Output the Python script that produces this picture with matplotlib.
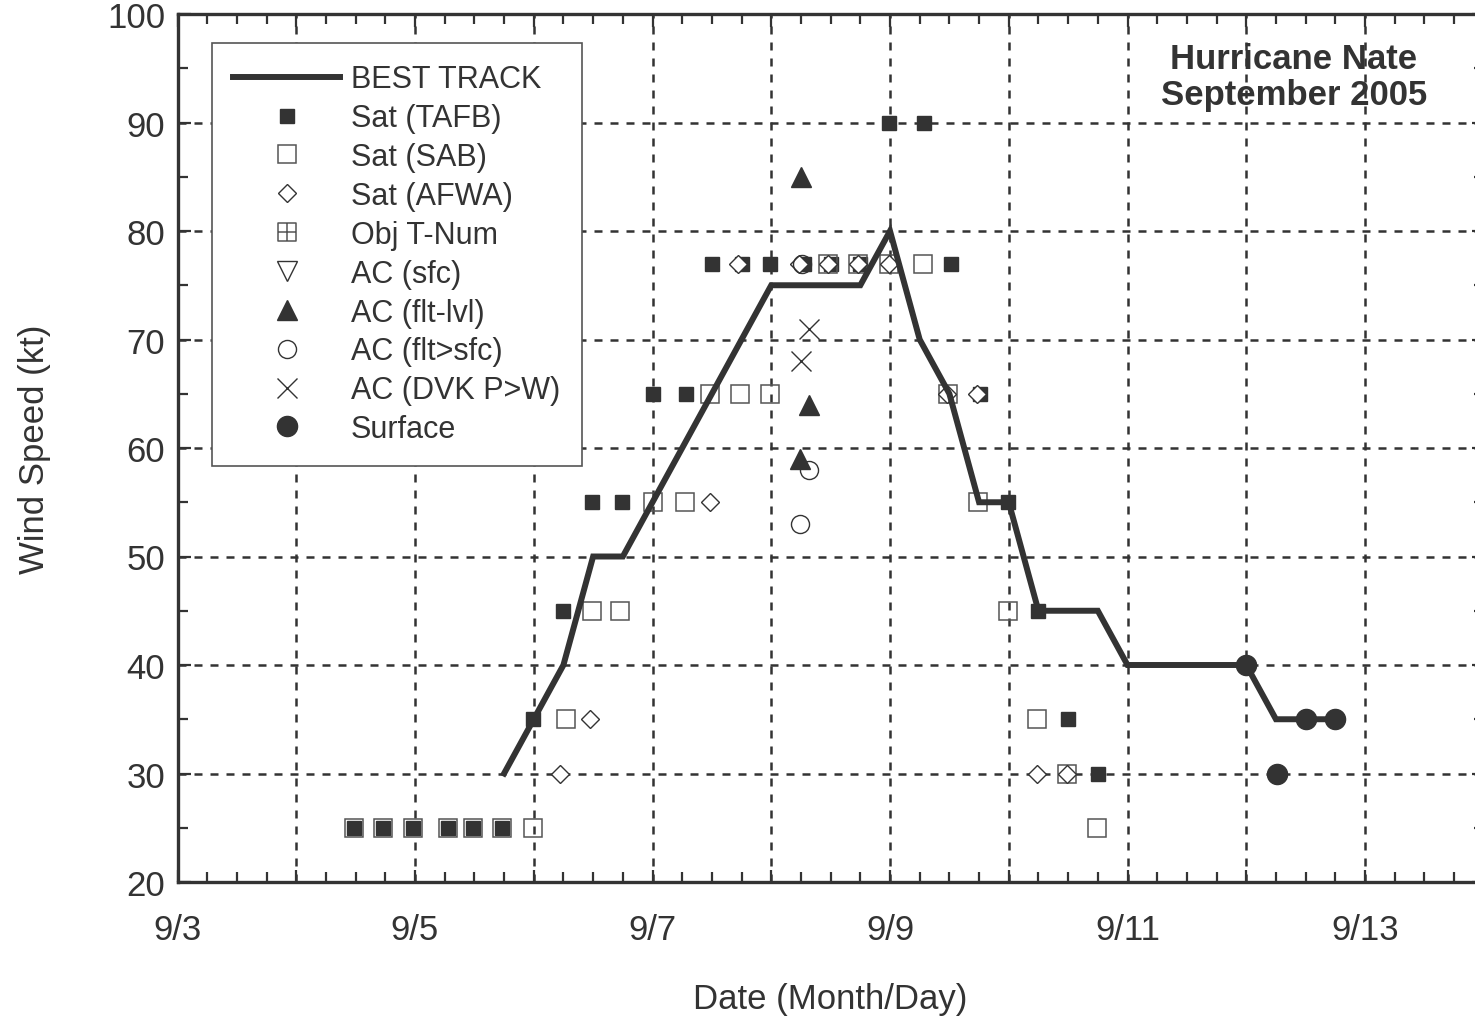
import matplotlib
matplotlib.use('Agg')
import matplotlib.pyplot as plt
from matplotlib.path import Path
from matplotlib.lines import Line2D

plt.rcParams['font.family'] = ['Liberation Sans', 'DejaVu Sans']

INK = '#333333'

# Best track, 6-hourly from 9/5 18Z to 9/12 18Z (day of September)
bt_day = [5.75 + 0.25 * i for i in range(29)]
bt_kt = [30,
         35, 40, 50, 50,
         55, 60, 65, 70,
         75, 75, 75, 75,
         80, 70, 65, 55,
         55, 45, 45, 45,
         40, 40, 40, 40,
         40, 35, 35, 35]

# Satellite fixes
tafb_day = [4.49, 4.73, 4.98, 5.28, 5.49, 5.73, 5.99, 6.25, 6.49, 6.74, 7.00, 7.28,
            7.50, 7.75, 7.99, 8.28, 8.50, 8.75, 8.99, 9.29, 9.51, 9.76, 9.99, 10.25,
            10.50, 10.75]
tafb_kt = [25, 25, 25, 25, 25, 25, 35, 45, 55, 55, 65, 65,
           77, 77, 77, 77, 77, 77, 90, 90, 77, 65, 55, 45,
           35, 30]

sab_day = [4.49, 4.73, 4.98, 5.28, 5.49, 5.73, 5.99, 6.27, 6.49, 6.73, 7.00, 7.27,
           7.48, 7.74, 7.99, 8.48, 8.73, 8.99, 9.28, 9.49, 9.74, 9.99, 10.24, 10.49,
           10.74]
sab_kt = [25, 25, 25, 25, 25, 25, 25, 35, 45, 45, 55, 55,
          65, 65, 65, 77, 77, 77, 77, 65, 55, 45, 35, 30,
          25]

afwa_day = [6.22, 6.47, 7.48, 7.72, 8.23, 8.48, 8.73, 8.99, 9.48, 9.73, 10.24, 10.49]
afwa_kt = [30, 35, 55, 77, 77, 77, 77, 77, 65, 65, 30, 30]

# Aircraft
flt_day = [8.25, 8.32, 8.24]
flt_kt = [85, 64, 59]

fltsfc_day = [8.32, 8.24, 8.26]
fltsfc_kt = [58, 53, 77]

dvk_day = [8.32, 8.25]
dvk_kt = [71, 68]

sfc_day = [12.00, 12.26, 12.50, 12.75]
sfc_kt = [40, 30, 35, 35]

day_ticks = list(range(3, 15))
day_labels = ['9/%d' % d if d % 2 == 1 else '' for d in day_ticks]

# square with a cross inside, for Obj T-Num
M, L, C = Path.MOVETO, Path.LINETO, Path.CLOSEPOLY
tnum_marker = Path([(-1, -1), (1, -1), (1, 1), (-1, 1), (-1, -1), (-1, 0), (1, 0), (0, -1), (0, 1)],
                   [M, L, L, L, C, M, L, M, L])

fig = plt.figure(figsize=(14.75, 10.2), dpi=100)
ax = fig.add_axes([177.5 / 1475, 1 - 883 / 1020, (1483.75 - 177.5) / 1475, 868 / 1020])

ax.plot(tafb_day, tafb_kt, ls='none', marker='s', ms=10.5, mfc=INK, mec=INK, mew=1, zorder=3)
ax.plot(sab_day, sab_kt, ls='none', marker='s', ms=13.5, mfc='none', mec='#555555', mew=1.1, zorder=3)
ax.plot(afwa_day, afwa_kt, ls='none', marker='D', ms=9, mfc='white', mec=INK, mew=1, zorder=3)
ax.plot(flt_day, flt_kt, ls='none', marker='^', ms=14, mfc=INK, mec=INK, zorder=3)
ax.plot(fltsfc_day, fltsfc_kt, ls='none', marker='o', ms=13, mfc='none', mec=INK, mew=1, zorder=3)
ax.plot(dvk_day, dvk_kt, ls='none', marker='x', ms=14, mec=INK, mew=1, zorder=3)
ax.plot(bt_day, bt_kt, color=INK, lw=4.3, zorder=4, solid_joinstyle='miter')
ax.plot(sfc_day, sfc_kt, ls='none', marker='o', ms=14.5, mfc=INK, mec=INK, zorder=5)

ax.set_xlim(3, 14)
ax.set_ylim(20, 100)
ax.set_xticks(day_ticks)
ax.set_xticklabels(day_labels)
ax.set_xticks([d + q for d in range(3, 14) for q in (0.25, 0.5, 0.75)], minor=True)
ax.set_yticks(range(20, 101, 10))
ax.set_yticks(range(25, 100, 10), minor=True)

ax.grid(True, which='major', color=INK, linestyle=(0, (3.2, 3.2)), linewidth=1.8)
ax.set_axisbelow(True)
ax.tick_params(which='both', direction='in', top=True, right=True, color=INK,
               width=1.6, labelsize=25, labelcolor=INK)
ax.tick_params(which='major', length=9)
ax.tick_params(which='minor', length=7)
ax.tick_params(axis='x', pad=22)
ax.tick_params(axis='y', pad=9)
for sp in ax.spines.values():
    sp.set_color(INK)
    sp.set_linewidth(2.4)

ax.set_xlabel('Date (Month/Day)', fontsize=25, color=INK, labelpad=26)
ax.set_ylabel('Wind Speed (kt)', fontsize=25, color=INK, labelpad=40)

ax.text(12.4, 94.2, 'Hurricane Nate\nSeptember 2005', ha='center', va='center',
        fontsize=25, fontweight='bold', color=INK, linespacing=1.12)

handles = [
    Line2D([], [], color=INK, lw=4.3),
    Line2D([], [], ls='none', marker='s', ms=10.5, mfc=INK, mec=INK),
    Line2D([], [], ls='none', marker='s', ms=13.5, mfc='none', mec='#555555', mew=1.1),
    Line2D([], [], ls='none', marker='D', ms=9, mfc='white', mec=INK, mew=1),
    Line2D([], [], ls='none', marker=tnum_marker, ms=13.5, mfc='none', mec='#555555', mew=1.1),
    Line2D([], [], ls='none', marker='v', ms=14, mfc='none', mec=INK, mew=1),
    Line2D([], [], ls='none', marker='^', ms=14, mfc=INK, mec=INK),
    Line2D([], [], ls='none', marker='o', ms=13, mfc='none', mec=INK, mew=1),
    Line2D([], [], ls='none', marker='x', ms=14, mec=INK, mew=1),
    Line2D([], [], ls='none', marker='o', ms=14.5, mfc=INK, mec=INK),
]
labels = ['BEST TRACK', 'Sat (TAFB)', 'Sat (SAB)', 'Sat (AFWA)', 'Obj T-Num', 'AC (sfc)',
          'AC (flt-lvl)', 'AC (flt>sfc)', 'AC (DVK P>W)', 'Surface']
leg = ax.legend(handles, labels, loc='upper left', bbox_to_anchor=(212 / 1475, 1 - 44 / 1020),
                bbox_transform=fig.transFigure, fontsize=22, frameon=True, fancybox=False,
                edgecolor='#555555', framealpha=1, handlelength=3.5, handletextpad=0.35,
                labelspacing=0.29, borderpad=0.7, borderaxespad=0)
leg.get_frame().set_linewidth(1.2)
for t in leg.get_texts():
    t.set_color(INK)

fig.savefig('out.png', dpi=100)
